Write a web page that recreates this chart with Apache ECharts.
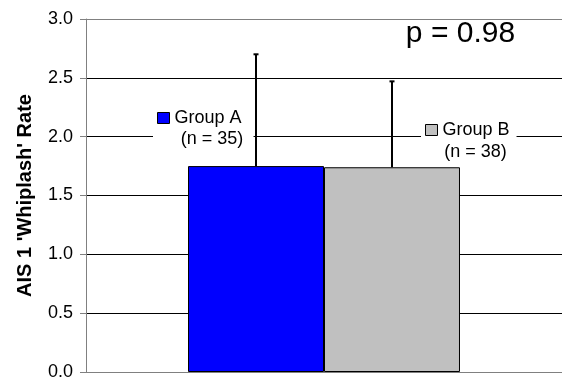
<!DOCTYPE html>
<html>
<head>
<meta charset="utf-8">
<script src="https://cdn.jsdelivr.net/npm/echarts@6/dist/echarts.min.js"></script>
<style>
  html, body { margin: 0; padding: 0; background: #fff; }
  #chart { width: 562px; height: 381px; }
</style>
</head>
<body>
<div id="chart"></div>
<script>
// Mean AIS 1 whiplash rate per group, with the upper error bar length
const groups = ['Group A', 'Group B'];
const sampleSizes = [35, 38];
const means = [1.75, 1.74];
const errorsUp = [0.95, 0.73];
const groupColors = ['#0000FF', '#C0C0C0'];
const yTicks = [0, 0.5, 1.0, 1.5, 2.0, 2.5, 3.0];
const pValue = 0.98;

const FONT = '"Liberation Sans", Arial, sans-serif';
const CAT_GAP = 0.4286;

const chart = echarts.init(document.getElementById('chart'), null, { renderer: 'canvas' });

const barSeries = groups.map((name, i) => ({
  name: name,
  type: 'bar',
  data: [means[i]],
  barGap: '0%',
  barCategoryGap: (CAT_GAP * 100) + '%',
  itemStyle: { color: groupColors[i], borderColor: '#000', borderWidth: 1 },
  emphasis: { disabled: true },
  z: 2
}));

// Plus-only error bars drawn over each bar's centre
const errorSeries = {
  type: 'custom',
  data: groups.map((g, i) => [0, means[i], means[i] + errorsUp[i], i]),
  renderItem: function (params, api) {
    const idx = api.value(3);
    const catW = api.size([1, 0])[0];
    const barW = catW * (1 - CAT_GAP) / groups.length;
    const base = api.coord([0, api.value(1)]);
    const top = api.coord([0, api.value(2)]);
    const x = base[0] + (idx - (groups.length - 1) / 2) * barW;
    const style = { stroke: '#000', lineWidth: 2 };
    return {
      type: 'group',
      children: [
        { type: 'line', shape: { x1: x, y1: base[1], x2: x, y2: top[1] }, style: style },
        { type: 'line', shape: { x1: x - 2.5, y1: top[1], x2: x + 2.5, y2: top[1] }, style: style }
      ]
    };
  },
  z: 3,
  silent: true
};

function groupLegend(i, left, top, padRight) {
  return {
    data: [groups[i]],
    left: left,
    top: top,
    orient: 'horizontal',
    padding: [5, padRight, 28, 4],
    backgroundColor: '#fff',
    icon: 'rect',
    itemWidth: 12,
    itemHeight: 11,
    itemGap: 0,
    selectedMode: false,
    itemStyle: { borderColor: '#000', borderWidth: 1 },
    textStyle: { fontFamily: FONT, fontSize: 18, color: '#000', padding: [0, 0, 0, 0] },
    z: 4
  };
}

const option = {
  animation: false,
  backgroundColor: '#fff',
  textStyle: { fontFamily: FONT },
  grid: { left: 86, right: 0, top: 19, bottom: 7, containLabel: false },
  legend: [
    groupLegend(0, 153, 104, 12),
    groupLegend(1, 421, 116, 7)
  ],
  xAxis: {
    type: 'category',
    data: [''],
    axisLine: { show: true, lineStyle: { color: '#808080', width: 1 } },
    axisTick: { show: false },
    axisLabel: { show: false },
    splitLine: { show: false }
  },
  yAxis: {
    type: 'value',
    min: yTicks[0],
    max: yTicks[yTicks.length - 1],
    interval: yTicks[1] - yTicks[0],
    name: "AIS 1 'Whiplash' Rate",
    nameLocation: 'middle',
    nameRotate: 90,
    nameGap: 51,
    nameTextStyle: { fontFamily: FONT, fontSize: 20, fontWeight: 'bold', color: '#000' },
    axisLine: { show: true, lineStyle: { color: '#808080', width: 1 } },
    axisTick: { show: true, inside: false, length: 6, lineStyle: { color: '#808080' } },
    axisLabel: {
      margin: 13,
      fontFamily: FONT,
      fontSize: 18,
      color: '#000',
      formatter: v => v.toFixed(1)
    },
    splitLine: {
      show: true,
      lineStyle: {
        color: ['#808080', '#000', '#000', '#000', '#000', '#000', '#808080'],
        width: 1
      }
    }
  },
  graphic: [
    {
      type: 'text',
      z: 10,
      style: {
        x: 460.5, y: 19,
        text: 'p = ' + pValue.toFixed(2),
        font: '30px ' + FONT, fill: '#000',
        textAlign: 'center', textVerticalAlign: 'top'
      }
    },
    {
      type: 'text',
      z: 10,
      style: {
        x: 212, y: 139.5,
        text: '(n = ' + sampleSizes[0] + ')',
        font: '18px ' + FONT, fill: '#000',
        textAlign: 'center', textVerticalAlign: 'middle'
      }
    },
    {
      type: 'text',
      z: 10,
      style: {
        x: 475.5, y: 152.5,
        text: '(n = ' + sampleSizes[1] + ')',
        font: '18px ' + FONT, fill: '#000',
        textAlign: 'center', textVerticalAlign: 'middle'
      }
    }
  ],
  series: barSeries.concat([errorSeries])
};

chart.setOption(option);
</script>
</body>
</html>
